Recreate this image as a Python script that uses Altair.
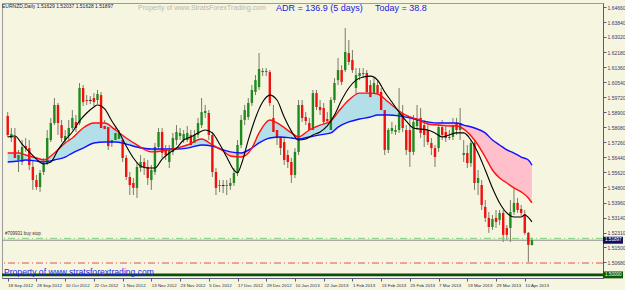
import json
import altair as alt
import pandas as pd

# ---------------- data ----------------
bar_open = [
    1.5870, 1.5749, 1.5755, 1.5629, 1.5618, 1.5705, 1.5694, 1.5591, 1.5519, 1.5481,
    1.5563, 1.5612, 1.5738, 1.5831, 1.5930, 1.5820, 1.5738, 1.5760, 1.5804, 1.5837,
    1.5831, 1.6023, 1.5957, 1.5957, 1.5968, 1.5957, 1.5984, 1.5815, 1.5809, 1.5722,
    1.5738, 1.5744, 1.5738, 1.5640, 1.5536, 1.5503, 1.5476, 1.5585, 1.5618, 1.5591,
    1.5519, 1.5563, 1.5700, 1.5782, 1.5684, 1.5618, 1.5673, 1.5738, 1.5760, 1.5738,
    1.5738, 1.5766, 1.5722, 1.5766, 1.5820, 1.5886, 1.5886, 1.5766, 1.5563, 1.5492,
    1.5492, 1.5487, 1.5487, 1.5503, 1.5558, 1.5711, 1.5848, 1.5864, 1.5941, 1.6001,
    1.6028, 1.6116, 1.6110, 1.6110, 1.5859, 1.5793, 1.5755, 1.5727, 1.5656, 1.5618,
    1.5547, 1.5673, 1.5930, 1.5864, 1.5831, 1.5793, 1.5995, 1.5919, 1.5913, 1.5853,
    1.5793, 1.5957, 1.6066, 1.6121, 1.6121, 1.6214, 1.6176, 1.6023, 1.6088, 1.6099,
    1.6105, 1.6039, 1.5995, 1.6039, 1.6001, 1.5902, 1.5684, 1.5787, 1.5782, 1.5793,
    1.5886, 1.5793, 1.5793, 1.5673, 1.5815, 1.5859, 1.5820, 1.5793, 1.5722, 1.5694,
    1.5694, 1.5809, 1.5782, 1.5749, 1.5755, 1.5831, 1.5793, 1.5656, 1.5667, 1.5612,
    1.5722, 1.5503, 1.5492, 1.5372, 1.5312, 1.5262, 1.5312, 1.5301, 1.5339, 1.5257,
    1.5257, 1.5344, 1.5394, 1.5361, 1.5333, 1.5230, 1.51629,
]
bar_high = [
    1.5891, 1.5804, 1.5804, 1.5684, 1.5738, 1.5749, 1.5738, 1.5629, 1.5547, 1.5574,
    1.5640, 1.5793, 1.5859, 1.5968, 1.5941, 1.5848, 1.5793, 1.5848, 1.5902, 1.5875,
    1.6050, 1.6039, 1.5984, 1.5979, 1.5995, 1.6012, 1.6001, 1.5848, 1.5826, 1.5766,
    1.5804, 1.5793, 1.5760, 1.5656, 1.5563, 1.5530, 1.5618, 1.5656, 1.5640, 1.5629,
    1.5601, 1.5722, 1.5804, 1.5804, 1.5711, 1.5711, 1.5777, 1.5820, 1.5804, 1.5793,
    1.5815, 1.5793, 1.5793, 1.5859, 1.5968, 1.5930, 1.5902, 1.5782, 1.5585, 1.5519,
    1.5519, 1.5519, 1.5530, 1.5585, 1.5738, 1.5875, 1.5930, 1.5968, 1.6039, 1.6094,
    1.6214, 1.6132, 1.6132, 1.6121, 1.5930, 1.5820, 1.5793, 1.5749, 1.5684, 1.5640,
    1.5694, 1.5957, 1.5957, 1.5891, 1.5859, 1.6012, 1.6012, 1.5957, 1.5941, 1.5891,
    1.5973, 1.6077, 1.6187, 1.6148, 1.6351, 1.6285, 1.6231, 1.6132, 1.6132, 1.6132,
    1.6121, 1.6066, 1.6077, 1.6066, 1.6023, 1.5930, 1.5804, 1.5837, 1.5820, 1.6023,
    1.5930, 1.5820, 1.5859, 1.5875, 1.5930, 1.5913, 1.5848, 1.5820, 1.5749, 1.5711,
    1.5831, 1.5848, 1.5820, 1.5793, 1.5859, 1.5859, 1.5913, 1.5738, 1.5711, 1.5738,
    1.5738, 1.5574, 1.5519, 1.5410, 1.5344, 1.5328, 1.5355, 1.5355, 1.5355, 1.5273,
    1.5410, 1.5509, 1.5421, 1.5383, 1.5355, 1.5235, 1.52037,
]
bar_low = [
    1.5755, 1.5727, 1.5618, 1.5563, 1.5601, 1.5673, 1.5574, 1.5465, 1.5465, 1.5454,
    1.5547, 1.5601, 1.5727, 1.5820, 1.5766, 1.5727, 1.5711, 1.5738, 1.5793, 1.5782,
    1.5820, 1.5924, 1.5930, 1.5935, 1.5924, 1.5935, 1.5793, 1.5766, 1.5684, 1.5700,
    1.5727, 1.5727, 1.5618, 1.5519, 1.5437, 1.5437, 1.5421, 1.5563, 1.5547, 1.5492,
    1.5465, 1.5547, 1.5684, 1.5640, 1.5629, 1.5585, 1.5656, 1.5711, 1.5738, 1.5722,
    1.5727, 1.5694, 1.5705, 1.5749, 1.5804, 1.5859, 1.5738, 1.5536, 1.5437, 1.5454,
    1.5448, 1.5437, 1.5465, 1.5487, 1.5541, 1.5694, 1.5820, 1.5848, 1.5924, 1.5984,
    1.6012, 1.6088, 1.6088, 1.5924, 1.5766, 1.5711, 1.5656, 1.5601, 1.5585, 1.5503,
    1.5530, 1.5656, 1.5837, 1.5820, 1.5777, 1.5782, 1.5902, 1.5875, 1.5815, 1.5820,
    1.5782, 1.5941, 1.6039, 1.6039, 1.6110, 1.6148, 1.6105, 1.5984, 1.6066, 1.6077,
    1.5984, 1.5957, 1.5979, 1.5968, 1.5880, 1.5656, 1.5667, 1.5771, 1.5766, 1.5777,
    1.5782, 1.5656, 1.5591, 1.5656, 1.5793, 1.5749, 1.5700, 1.5711, 1.5656, 1.5591,
    1.5673, 1.5738, 1.5727, 1.5738, 1.5738, 1.5766, 1.5738, 1.5618, 1.5585, 1.5591,
    1.5465, 1.5437, 1.5355, 1.5290, 1.5230, 1.5246, 1.5257, 1.5273, 1.5180, 1.5191,
    1.5180, 1.5328, 1.5339, 1.5323, 1.5219, 1.5071, 1.51628,
]
bar_close = [
    1.5766, 1.5771, 1.5640, 1.5656, 1.5700, 1.5694, 1.5601, 1.5519, 1.5481, 1.5558,
    1.5612, 1.5749, 1.5831, 1.5930, 1.5831, 1.5749, 1.5760, 1.5804, 1.5859, 1.5804,
    1.6023, 1.5946, 1.5952, 1.5955, 1.5946, 1.5990, 1.5804, 1.5798, 1.5705, 1.5738,
    1.5777, 1.5777, 1.5640, 1.5536, 1.5492, 1.5476, 1.5591, 1.5618, 1.5591, 1.5530,
    1.5574, 1.5700, 1.5782, 1.5667, 1.5656, 1.5684, 1.5749, 1.5782, 1.5777, 1.5771,
    1.5777, 1.5711, 1.5766, 1.5831, 1.5891, 1.5897, 1.5766, 1.5563, 1.5476, 1.5487,
    1.5489, 1.5492, 1.5503, 1.5558, 1.5711, 1.5848, 1.5902, 1.5941, 1.6012, 1.6066,
    1.6127, 1.6110, 1.6116, 1.5941, 1.5782, 1.5749, 1.5694, 1.5629, 1.5618, 1.5547,
    1.5673, 1.5930, 1.5859, 1.5842, 1.5793, 1.5995, 1.5919, 1.5902, 1.5837, 1.5842,
    1.5957, 1.6050, 1.6121, 1.6056, 1.6220, 1.6165, 1.6121, 1.6094, 1.6105, 1.6105,
    1.6001, 1.5973, 1.6050, 1.5995, 1.5902, 1.5684, 1.5793, 1.5804, 1.5793, 1.5886,
    1.5804, 1.5684, 1.5673, 1.5837, 1.5848, 1.5777, 1.5766, 1.5727, 1.5694, 1.5645,
    1.5809, 1.5766, 1.5749, 1.5755, 1.5820, 1.5793, 1.5831, 1.5667, 1.5612, 1.5722,
    1.5503, 1.5530, 1.5383, 1.5312, 1.5262, 1.5306, 1.5290, 1.5339, 1.5219, 1.5219,
    1.5344, 1.5394, 1.5355, 1.5339, 1.5230, 1.5164, 1.51897,
]

# fast moving average (black), read at bar positions
black_idx = [0, 2, 4, 6, 8, 10, 12, 14, 16, 18, 20, 22, 24, 25, 27, 29, 31, 33, 35, 37,
             39, 41, 43, 45, 47, 49, 51, 53, 55, 57, 59, 61, 63, 64, 65, 67, 69, 71, 73, 75,
             77, 79, 81, 83, 85, 87, 89, 91, 93, 95, 97, 99, 101, 103, 105, 107, 109, 111, 113, 115,
             117, 119, 121, 123, 125, 127, 129, 131, 133, 135, 137, 139, 141, 143, 144, 146]
black_val = [1.5755, 1.5760, 1.5716, 1.5673, 1.5634, 1.5607, 1.5618, 1.5684, 1.5738, 1.5782,
             1.5842, 1.5886, 1.5919, 1.5930, 1.5908, 1.5842, 1.5782, 1.5705, 1.5640, 1.5596,
             1.5585, 1.5585, 1.5634, 1.5667, 1.5694, 1.5738, 1.5755, 1.5777, 1.5793, 1.5777,
             1.5716, 1.5645, 1.5574, 1.5558, 1.5601, 1.5738, 1.5859, 1.5946, 1.5984, 1.5957,
             1.5864, 1.5787, 1.5738, 1.5744, 1.5766, 1.5782, 1.5815, 1.5875, 1.5957, 1.6023,
             1.6066, 1.6083, 1.6088, 1.6066, 1.6001, 1.5946, 1.5891, 1.5842, 1.5804, 1.5798,
             1.5793, 1.5777, 1.5755, 1.5766, 1.5777, 1.5777, 1.5738, 1.5667, 1.5574, 1.5476,
             1.5394, 1.5339, 1.5317, 1.5317, 1.5328, 1.5290]

# medium (red) and slow (blue) moving averages, read at the same bar positions
ma_idx = [0, 3, 5, 8, 10, 13, 16, 18, 21, 24, 27, 30, 33, 36, 40, 43, 47, 50, 54, 57,
          60, 62, 65, 68, 70, 73, 76, 79, 81, 84, 87, 90, 92, 95, 98, 101, 103, 106, 109, 112,
          114, 117, 120, 123, 125, 127, 130, 133, 135, 137, 139, 141, 143, 145, 146]
red_val = [1.5667, 1.5667, 1.5656, 1.5640, 1.5629, 1.5667, 1.5722, 1.5749, 1.5804, 1.5831,
           1.5831, 1.5793, 1.5749, 1.5711, 1.5673, 1.5678, 1.5694, 1.5711, 1.5744, 1.5711,
           1.5678, 1.5651, 1.5645, 1.5694, 1.5777, 1.5848, 1.5820, 1.5777, 1.5755, 1.5793,
           1.5820, 1.5842, 1.5891, 1.5957, 1.5995, 1.5995, 1.5990, 1.5946, 1.5897, 1.5864,
           1.5853, 1.5826, 1.5820, 1.5815, 1.5815, 1.5798, 1.5738, 1.5645, 1.5574, 1.5530,
           1.5503, 1.5476, 1.5454, 1.5421, 1.5394]
blue_val = [1.5618, 1.5623, 1.5629, 1.5623, 1.5618, 1.5629, 1.5645, 1.5667, 1.5694, 1.5722,
            1.5727, 1.5727, 1.5716, 1.5700, 1.5689, 1.5689, 1.5689, 1.5694, 1.5711, 1.5705,
            1.5684, 1.5673, 1.5667, 1.5694, 1.5722, 1.5749, 1.5755, 1.5749, 1.5744, 1.5755,
            1.5766, 1.5777, 1.5809, 1.5837, 1.5853, 1.5864, 1.5875, 1.5875, 1.5870, 1.5859,
            1.5848, 1.5837, 1.5831, 1.5831, 1.5831, 1.5820, 1.5804, 1.5777, 1.5738, 1.5711,
            1.5684, 1.5667, 1.5645, 1.5629, 1.5601]

date_labels = ["18 Sep 2012", "28 Sep 2012", "10 Oct 2012", "22 Oct 2012", "1 Nov 2012",
               "13 Nov 2012", "23 Nov 2012", "5 Dec 2012", "17 Dec 2012", "28 Dec 2012",
               "10 Jan 2013", "22 Jan 2013", "1 Feb 2013", "13 Feb 2013", "25 Feb 2013",
               "7 Mar 2013", "19 Mar 2013", "29 Mar 2013", "10 Apr 2013"]
date_idx = [0, 8, 16, 24, 32, 40, 48, 56, 64, 72, 80, 88, 96, 104, 112, 120, 128, 136, 144]

price_ticks = [1.6466, 1.6384, 1.6302, 1.6218, 1.6136, 1.6054, 1.5972, 1.5890, 1.5808,
               1.5726, 1.5644, 1.5562, 1.5480, 1.5396, 1.5314, 1.5231, 1.5150, 1.5068]

bid_price = 1.51897
buy_stop_price = 1.5200
stop_price = 1.5065
target_price = 1.5000

# ---------------- frames ----------------
n = len(bar_open)
candles = pd.DataFrame({"i": list(range(n)), "o": bar_open, "h": bar_high,
                        "l": bar_low, "c": bar_close})
candles["dir"] = ["up" if c >= o else "down" for o, c in zip(bar_open, bar_close)]
candles["doji"] = [abs(c - o) < 0.0004 for o, c in zip(bar_open, bar_close)]

black_df = pd.DataFrame({"i": black_idx, "v": black_val})
ma_df = pd.DataFrame({"i": ma_idx, "red": red_val, "blue": blue_val})

W, H = 601, 275
xs = alt.Scale(domain=[-0.2, 164.4], nice=False, zero=False)
ys = alt.Scale(domain=[1.4983, 1.6488], nice=False, zero=False)
FONT = "Liberation Sans"
AX_COL = "#5a5a78"

x_axis = alt.Axis(values=date_idx, title=None, grid=False,
                  labelExpr=json.dumps(date_labels) + "[round(datum.value / 8)]",
                  labelAlign="left", labelFontSize=4.4, labelFont=FONT, labelColor="#2a2a48",
                  labelPadding=2, tickSize=3, tickColor=AX_COL, domainColor=AX_COL,
                  labelOverlap=False, labelFlush=False, labelBound=False)
y_axis = alt.Axis(values=price_ticks, orient="right", title=None, grid=False, format=".5f",
                  labelFontSize=5, labelFont=FONT, labelColor="#3a3a70", labelPadding=1,
                  tickSize=3, tickColor=AX_COL, domainColor=AX_COL, labelOverlap=False,
                  labelFlush=False, labelBound=False)


def X(field="i"):
    return alt.X(f"{field}:Q", scale=xs, axis=x_axis)


def Y(field):
    return alt.Y(f"{field}:Q", scale=ys, axis=y_axis)


wicks = alt.Chart(candles).mark_rule(color="#7a7a6a", strokeWidth=1).encode(
    x=X(), y=Y("l"), y2="h:Q",
)
bodies = alt.Chart(candles).mark_bar(size=2.4).encode(
    x=X(), y=Y("o"), y2="c:Q",
    color=alt.Color("dir:N", scale=alt.Scale(domain=["up", "down"],
                                             range=["#1f8a1f", "#f01010"]), legend=None),
)
dojis = alt.Chart(candles).transform_filter("datum.doji").mark_tick(
    color="#000000", thickness=1, size=3, orient="horizontal").encode(x=X(), y=Y("c"))

fill_base = alt.Chart(ma_df).transform_calculate(
    hi="max(datum.red, datum.blue)", lo="min(datum.red, datum.blue)")
fill_up = fill_base.mark_area(color="#b2dfe8", interpolate="monotone").encode(
    x=X(), y=Y("blue"), y2="hi:Q")
fill_dn = fill_base.mark_area(color="#ffc0cb", interpolate="monotone").encode(
    x=X(), y=Y("lo"), y2="blue:Q")
blue_line = alt.Chart(ma_df).mark_line(color="#1010ff", strokeWidth=1.4,
                                       interpolate="monotone").encode(x=X(), y=Y("blue"))
red_line = alt.Chart(ma_df).mark_line(color="#ff1010", strokeWidth=1.4,
                                      interpolate="monotone").encode(x=X(), y=Y("red"))
black_line = alt.Chart(black_df).mark_line(color="#000000", strokeWidth=1.1,
                                           interpolate="monotone").encode(x=X(), y=Y("v"))


def hline(price, color, width, dash=None):
    kw = dict(color=color, strokeWidth=width)
    if dash:
        kw["strokeDash"] = dash
    return alt.Chart(pd.DataFrame({"p": [price]})).mark_rule(**kw).encode(y=Y("p"))


l_bid = hline(bid_price, "#8e8e8e", 1)
l_buy = hline(buy_stop_price, "#7fd07f", 1, [7, 3, 1, 3])
l_stop = hline(stop_price, "#e05050", 1, [7, 3, 1, 3])
l_tgt = hline(target_price, "#0b4d0b", 2.6)


def label(txt, x, y, size, color, weight="normal", font=FONT):
    return alt.Chart(pd.DataFrame({"t": [txt]})).mark_text(
        align="left", baseline="middle", fontSize=size, color=color, font=font,
        fontWeight=weight).encode(text="t:N", x=alt.value(x), y=alt.value(y))


t_info = label("EURNZD,Daily  1.51629 1.52037 1.51628 1.51897", 0, 3, 5, "#202050")
t_wm = label("Property of www.StratsForexTrading.com", 136, 4.5, 7, "#b8b8b0")
t_adr = label("ADR = 136.9  (5 days)", 274, 5, 9, "#1a1ae0")
t_today = label("Today = 38.8", 373, 5, 9, "#1a1ae0")
t_prop = label("Property of www.stratsforextrading.com", 2, 268.5, 8.6, "#1e1ee6")
t_order = label("#709931 buy stop", 3, 231, 4.5, "#303030")

boxes_df = pd.DataFrame({"p": [bid_price, target_price], "lbl": ["1.51897", "1.50000"],
                         "bg": ["#101060", "#0b5a0b"]})
boxes_df["top"] = boxes_df["p"] + 0.0019
boxes_df["bot"] = boxes_df["p"] - 0.0019
price_boxes = alt.Chart(boxes_df).mark_rect().encode(
    x=alt.value(W), x2=alt.value(W + 20),
    y=Y("top"), y2="bot:Q",
    color=alt.Color("bg:N", scale=None, legend=None),
)
price_text = alt.Chart(boxes_df).mark_text(align="left", baseline="middle", fontSize=4.6,
                                           color="white", font=FONT).encode(
    x=alt.value(W + 2), y=Y("p"), text="lbl:N")

chart = alt.layer(
    wicks, fill_up, fill_dn, l_bid, l_buy, l_stop, l_tgt,
    bodies, dojis, blue_line, red_line, black_line,
    t_info, t_wm, t_adr, t_today, t_prop, t_order, price_boxes, price_text,
).properties(
    width=W, height=H,
    autosize=alt.AutoSizeParams(type="none"),
    padding={"left": 2, "top": 3, "right": 22, "bottom": 12},
    background="#f6f5df",
).configure_view(
    stroke="#9a9aa0", fill="#f6f5df",
).configure_axis(
    labelOverlap=False,
)

chart.save("out.html", embed_options={"renderer": "svg", "actions": False})
